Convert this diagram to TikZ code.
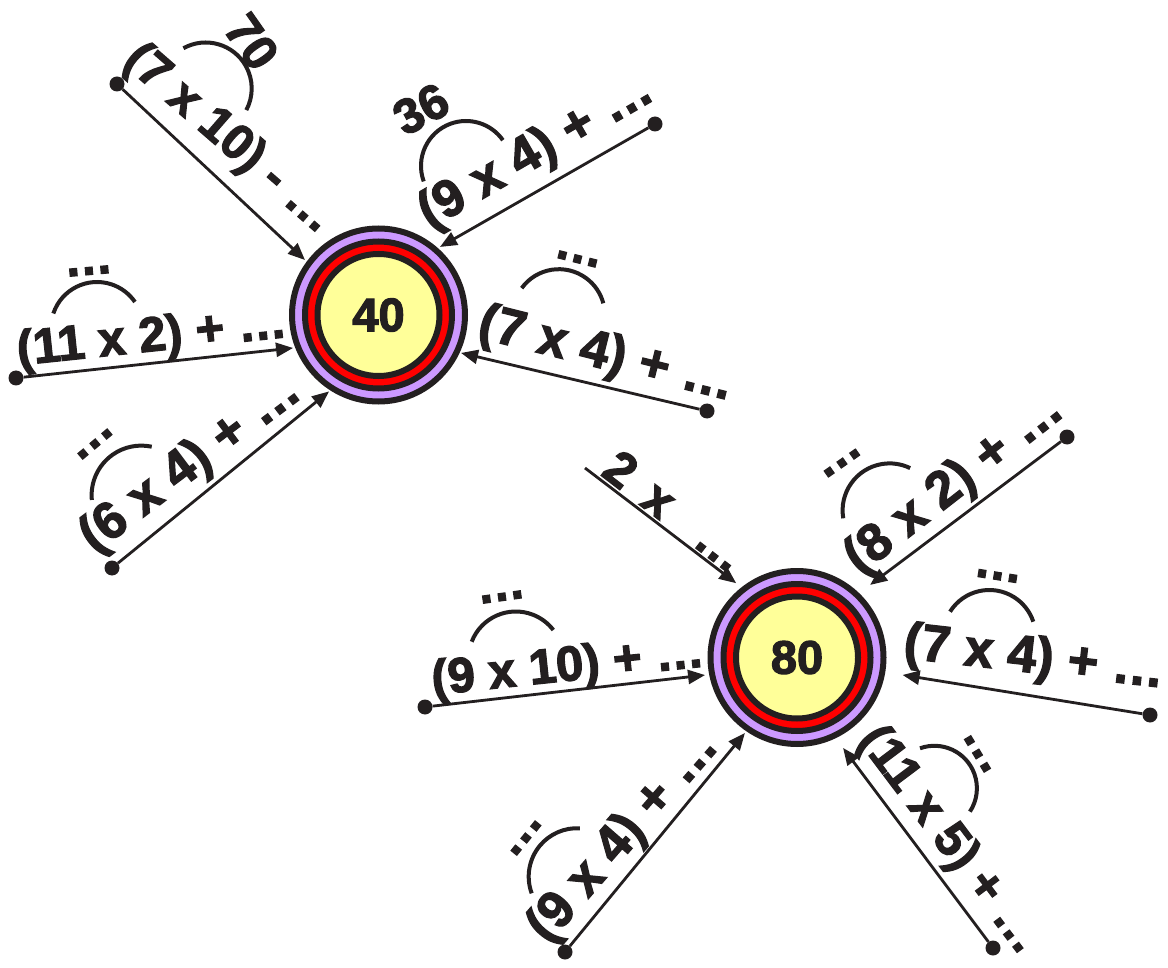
\documentclass[tikz,border=0pt]{standalone}
\usepackage{fontspec}
\setmainfont{Liberation Sans}[BoldFeatures={FakeBold=2.5}]
\usetikzlibrary{arrows.meta,calc}
\definecolor{ink}{HTML}{231F20}
\definecolor{ringpurple}{RGB}{204,153,255}
\definecolor{ringred}{RGB}{255,0,0}
\definecolor{ringyellow}{RGB}{255,255,153}
\tikzset{
  lbl/.style={font=\bfseries\fontsize{49}{55}\selectfont, text=ink, inner sep=0pt},
  lblw/.style={font=\bfseries\fontsize{52}{58}\selectfont, text=ink, inner sep=0pt},
  conn/.style={draw=ink, line width=2.8pt, -{Triangle[length=17pt,width=14pt]}},
  enddot/.style={circle, fill=ink, minimum size=15pt, inner sep=0pt},
  bracket/.style={draw=ink, line width=4pt},
  ringout/.style={circle, draw=ink, line width=6pt, fill=ringpurple, minimum size=173pt, inner sep=0pt},
  ringmid/.style={circle, draw=ink, line width=6pt, fill=ringred, minimum size=147pt, inner sep=0pt},
  ringin/.style={circle, draw=ink, line width=6pt, fill=ringyellow, minimum size=122pt, inner sep=0pt,
                 font=\bfseries\fontsize{47}{50}\selectfont, text=ink},
}
\begin{document}
\begin{tikzpicture}[x=1pt,y=1pt]
\useasboundingbox (0,0) rectangle (1168,-968);

% ---------- circle 40 ----------
\node[ringout] (c1) at (378.5,-315) {};
\node[ringmid] (c1m) at (c1.center) {};
\node[ringin] (c1i) at (c1.center) {40};

% ---------- circle 80 ----------
\node[ringout] (c2) at (797,-657.5) {};
\node[ringmid] (c2m) at (c2.center) {};
\node[ringin] (c2i) at (c2.center) {80};

% arrow tips
\coordinate (tA1) at ($(c1.center)+(143.2:91.8)$);
\coordinate (tA2) at ($(c1.center)+(47.9:91.7)$);
\coordinate (tA3) at ($(c1.center)+(201.1:91.6)$);
\coordinate (tA4) at ($(c1.center)+(237.1:91)$);
\coordinate (tA5) at ($(c1.center)+(335.3:90.8)$);
\coordinate (tB1) at ($(c2.center)+(129.3:96)$);
\coordinate (tB2) at ($(c2.center)+(44.8:103)$);
\coordinate (tB3) at ($(c2.center)+(350.6:107)$);
\coordinate (tB4) at ($(c2.center)+(190.8:93.6)$);
\coordinate (tB5) at ($(c2.center)+(235.4:91.7)$);
\coordinate (tB6) at ($(c2.center)+(297:101.5)$);

% end dots
\node[enddot] (dA1) at (117,-84) {};
\node[enddot] (dA2) at (655,-124) {};
\node[enddot] (dA3) at (16,-378) {};
\node[enddot] (dA4) at (112,-568) {};
\node[enddot] (dA5) at (707,-411) {};
\coordinate (sB1) at (585,-468);
\node[enddot] (dB2) at (1067,-437) {};
\node[enddot] (dB3) at (1150,-715) {};
\node[enddot] (dB4) at (425,-707) {};
\node[enddot] (dB5) at (565,-952) {};
\node[enddot] (dB6) at (993,-948) {};

% connectors
\draw[conn] (dA1) -- (tA1);
\draw[conn] (dA2) -- (tA2);
\draw[conn] (dA3) -- (tA3);
\draw[conn] (dA4) -- (tA4);
\draw[conn] (dA5) -- (tA5);
\draw[conn] (sB1) -- (tB1);
\draw[conn] (dB2) -- (tB2);
\draw[conn] (dB3) -- (tB3);
\draw[conn] (dB4) -- (tB4);
\draw[conn] (dB5) -- (tB5);
\draw[conn] (dB6) -- (tB6);

% labels
\node[lbl, rotate=-41]   (lA1) at (228.7,-139.7) {(7 x 10) - …};
\node[lblw, rotate=30]   (lA2) at (536.5,-152.3) {(9 x 4) + …};
\node[lbl, rotate=6]     (lA3) at (152,-338.5) {(11 x 2) + …};
\node[lblw, rotate=37]   (lA4) at (191,-464.5) {(6 x 4) + …};
\node[lblw, rotate=-14]  (lA5) at (606.3,-355.8) {(7 x 4) + …};
\node[lbl, rotate=-37.5] (lB1) at (675.5,-511) {2\hspace{8pt} x\hspace{26pt} …};
\node[lblw, rotate=38]   (lB2) at (954.9,-484.4) {(8 x 2) + …};
\node[lblw, rotate=-6.5] (lB3) at (1034,-659.4) {(7 x 4) + …};
\node[lbl, rotate=6]     (lB4) at (568,-668) {(9 x 10) + …};
\node[lblw, rotate=49]   (lB5) at (623.9,-837.3) {(9 x 4) + …};
\node[lbl, rotate=-53]   (lB6) at (949,-841) {(11 x 5) + …};

% brackets over products
\draw[bracket] ([shift={(119:46)}]205.7,-88.5) arc[start angle=119, end angle=-28, radius=46];
\draw[bracket] ([shift={(200:45)}]466,-166) arc[start angle=200, end angle=35, radius=45];
\draw[bracket] ([shift={(161.6:46)}]97,-328) arc[start angle=161.6, end angle=34.5, radius=46];
\draw[bracket] ([shift={(185.4:49.7)}]141.3,-495.3) arc[start angle=185.4, end angle=77.9, radius=49.7];
\draw[bracket] ([shift={(144:46)}]558.9,-315.2) arc[start angle=144, end angle=15, radius=46];
\draw[bracket] ([shift={(189.7:47)}]889.6,-510.4) arc[start angle=189.7, end angle=64.1, radius=47];
\draw[bracket] ([shift={(147.8:46.4)}]989.3,-636.4) arc[start angle=147.8, end angle=18.5, radius=46.4];
\draw[bracket] ([shift={(158.8:47.3)}]515.8,-658.8) arc[start angle=158.8, end angle=37.5, radius=47.3];
\draw[bracket] ([shift={(200.2:48.4)}]577.1,-876.6) arc[start angle=200.2, end angle=86.6, radius=48.4];
\draw[bracket] ([shift={(109.8:42.5)}]934.4,-788.3) arc[start angle=109.8, end angle=-33.3, radius=42.5];

% results above brackets
\node[lbl, rotate=-55] (rA1) at (251.7,-41.7) {70};
\node[lbl, rotate=28]  (rA2) at (421,-109) {36};
\node[lbl, rotate=5]   (rA3) at (89,-271) {…};
\node[lbl, rotate=40]  (rA4) at (95,-444) {…};
\node[lbl, rotate=-14] (rA5) at (577.5,-259) {…};
\node[lbl, rotate=35]  (rB2) at (842,-463) {…};
\node[lbl, rotate=-9]  (rB3) at (997.5,-576) {…};
\node[lbl, rotate=8]   (rB4) at (502,-597) {…};
\node[lbl, rotate=51]  (rB5) at (526,-838) {…};
\node[lbl, rotate=-59] (rB6) at (977.5,-754) {…};
\end{tikzpicture}
\end{document}
